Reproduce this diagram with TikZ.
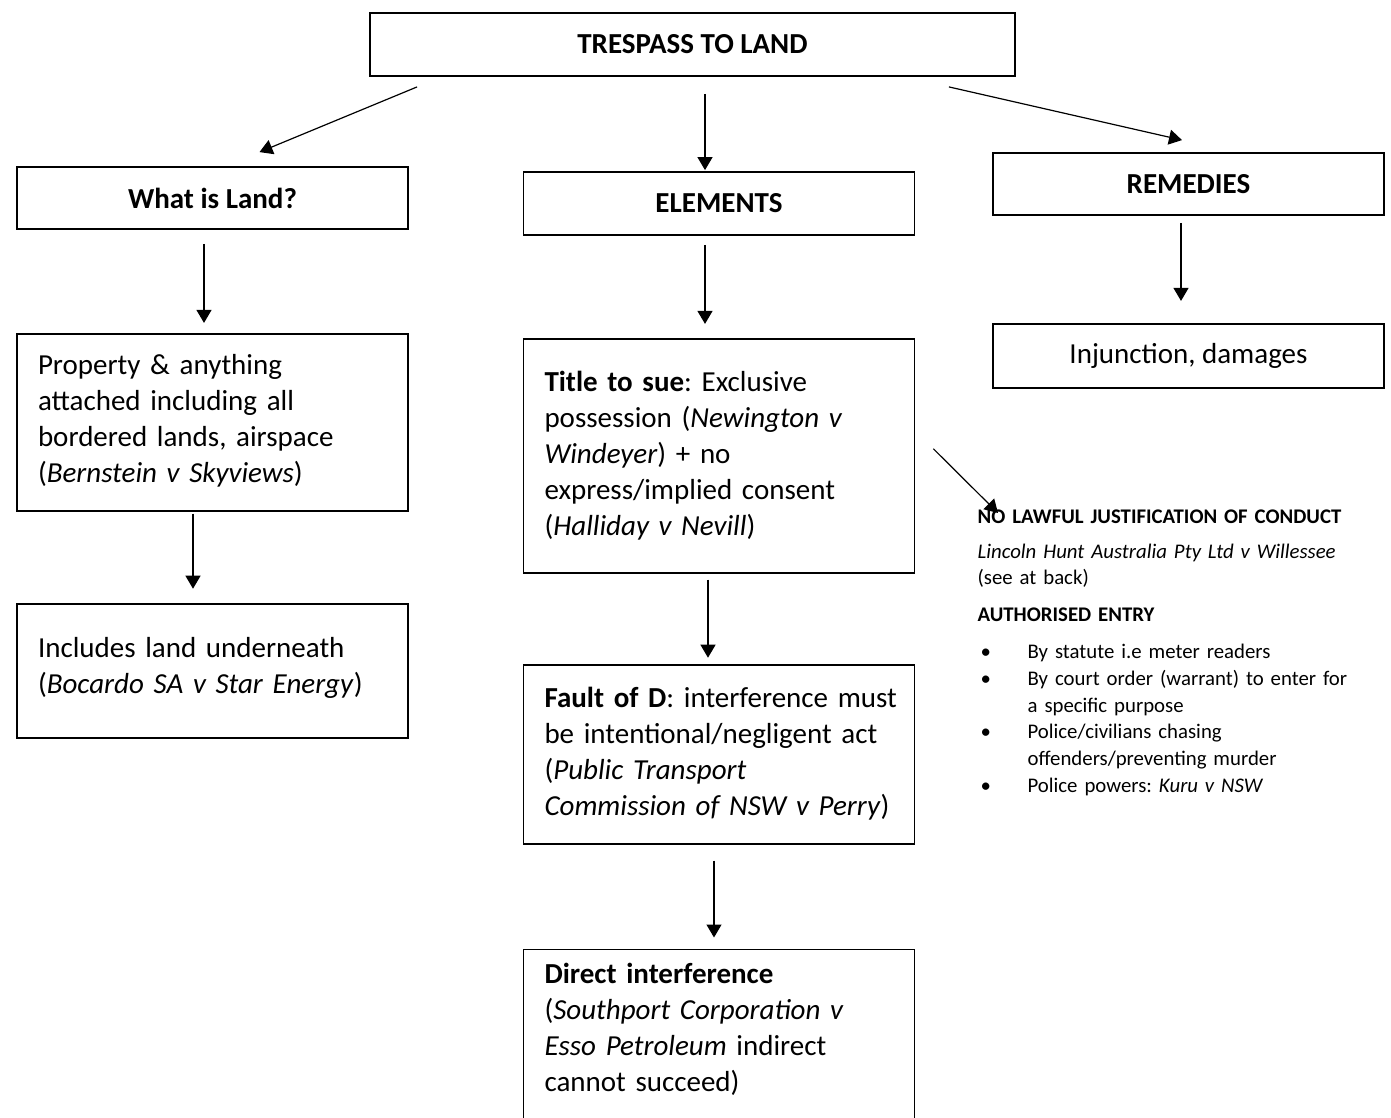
\documentclass[tikz,border=0pt]{standalone}
\usepackage{fontspec}
\setmainfont{Carlito}
\usepackage{tikz}
\usetikzlibrary{positioning}
\usetikzlibrary{calc}
\usetikzlibrary{arrows.meta}

\frenchspacing
\newcommand{\bodyfont}{\fontsize{29}{36}\selectfont}
\newcommand{\notefont}{\fontsize{20.8}{26.8}\selectfont}
\newcommand{\nbullet}{\makebox[50pt][l]{\hspace{3pt}\textbullet}}
\newcommand{\nindent}{\hspace*{50pt}}

\begin{document}
\begin{tikzpicture}[x=1pt,y=-1pt,->,>={Triangle[length=13pt,width=15pt]},line width=1.2pt,
	text box/.style={rectangle,draw,line width=1.8pt,text width=349pt,inner xsep=21pt,inner ysep=6pt,align=left,font=\bodyfont},
	head box/.style={rectangle,draw,line width=1.8pt,minimum width=391pt,minimum height=62pt,inner sep=0pt,align=center,font=\bodyfont\bfseries}]
	
	\useasboundingbox (0,0) rectangle (1391,1117);
	
	% top row
	\node[head box, minimum width=645pt, minimum height=63pt] (title) at (692.5,44.5) {TRESPASS TO LAND};
	\node[head box] (what) at (212.5,198) {What is Land?};
	\node[head box, minimum height=63pt] (elem) at (719,203.5) {ELEMENTS};
	\node[head box] (rem) at (1188.5,184) {REMEDIES};
	
	% left column
	\node[text box, minimum height=177pt] (prop) [below=103pt of what] {Property \& anything\\ attached including all\\ bordered lands, airspace\\ (\textit{Bernstein v Skyviews})\vphantom{\rule{0pt}{0pt}}\\[-28pt]\mbox{}};
	\node[text box, minimum height=134pt] (incl) [below=91pt of prop] {Includes land underneath\\ (\textit{Bocardo SA v Star Energy})\\[-26pt]\mbox{}};
	
	% middle column
	\node[text box, minimum height=234pt] (sue) [below=102pt of elem] {\textbf{Title to sue}: Exclusive\\ possession (\textit{Newington v\\ Windeyer}) + no\\ express/implied consent\\ (\textit{Halliday v Nevill})};
	\node[text box, minimum height=179pt] (fault) [below=90pt of sue] {\mbox{\textbf{Fault of D}: interference must}\\ be intentional/negligent act\\ (\textit{Public Transport\\ Commission of NSW v Perry})};
	\node[text box, inner ysep=14pt, text depth=150pt] (direct) [below=104pt of fault] {\textbf{Direct interference}\\ (\textit{Southport Corporation v\\ Esso Petroleum} indirect\\ cannot succeed)};
	
	% right column
	\node[head box, minimum height=64pt, font=\bodyfont] (inj) [below=107pt of rem] {Injunction, damages};
	\node[anchor=north west, inner sep=0pt, text width=400pt, align=left, font=\notefont] (note) at (977,509) {\textbf{NO LAWFUL JUSTIFICATION OF CONDUCT}\\[8pt]
		\textit{Lincoln Hunt Australia Pty Ltd v Willessee}\\
		(see at back)\\[10pt]
		\textbf{AUTHORISED ENTRY}\\[10pt]
		\nbullet By statute i.e meter readers\\
		\nbullet By court order (warrant) to enter for\\
		\nindent a specific purpose\\
		\nbullet Police/civilians chasing\\
		\nindent offenders/preventing murder\\
		\nbullet Police powers: \textit{Kuru v NSW}};
	
	\path
	($(title.south west)+(48,10)$) edge ($(what.north)+(47,-14)$)
	([xshift=12.5pt]title.south) edge[shorten <=17pt, shorten >=1pt] ([xshift=-14pt]elem.north)
	($(title.south east)+(-67,10)$) edge ($(rem.north)+(-6.5,-12)$)
	([xshift=-8.5pt]what.south) edge[shorten <=14pt, shorten >=10pt] ([xshift=-8.5pt]prop.north)
	([xshift=-19.5pt]prop.south) edge[shorten <=2pt, shorten >=14pt] ([xshift=-19.5pt]incl.north)
	([xshift=-14pt]elem.south) edge[shorten <=9pt, shorten >=14pt] ([xshift=-14pt]sue.north)
	([xshift=-11pt]sue.south) edge[shorten <=6pt, shorten >=6pt] ([xshift=-11pt]fault.north)
	([xshift=-5pt]fault.south) edge[shorten <=16pt, shorten >=11pt] ([xshift=-5pt]direct.north)
	([xshift=-7.5pt]rem.south) edge[shorten <=7pt, shorten >=22pt] ([xshift=-7.5pt]inj.north)
	($(sue.east)+(18,-7)$) edge ($(note.north west)+(21,4)$);
\end{tikzpicture}
\end{document}
